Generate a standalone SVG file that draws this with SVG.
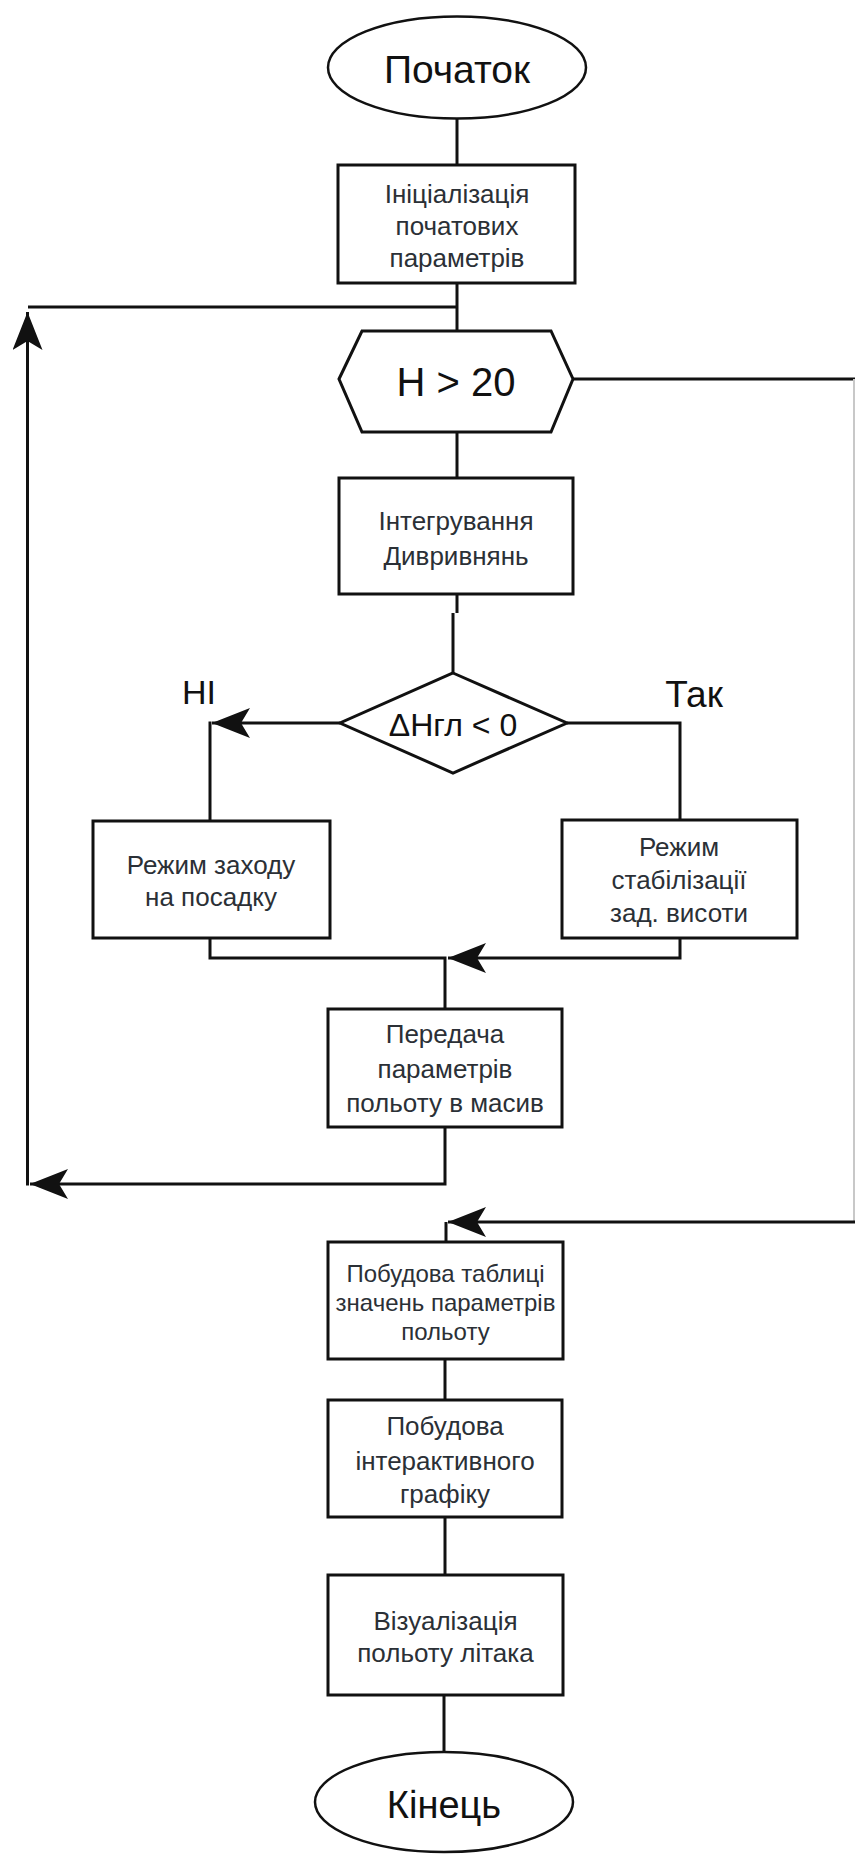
<svg xmlns="http://www.w3.org/2000/svg" width="855" height="1854" viewBox="0 0 855 1854">
<style>
.shape{fill:#fff;stroke:#111;stroke-width:3}
.term{fill:#fff;stroke:#111;stroke-width:2.5}
.con{fill:none;stroke:#111;stroke-width:3}
.faint{fill:none;stroke:#c8c8c8;stroke-width:2}
.big{font-family:"Liberation Sans",Arial,sans-serif;fill:#111;text-anchor:middle}
.lbl{font-family:"Liberation Sans",Arial,sans-serif;fill:#2b3036;text-anchor:middle;font-size:26px}
.lbl.sm{font-size:24px}
</style>
<defs>
<marker id="arr" viewBox="0 0 38 30" refX="38" refY="15" markerWidth="38" markerHeight="30" markerUnits="userSpaceOnUse" orient="auto">
<path d="M0,0 L38,15 L0,30 L9,15 Z" fill="#111"/>
</marker>
</defs>
<rect width="855" height="1854" fill="#fff"/>
<g id="connectors">
<line class="con" x1="457" y1="118" x2="457" y2="165"/>
<line class="con" x1="457" y1="283" x2="457" y2="331"/>
<line class="con" x1="28" y1="307" x2="457" y2="307"/>
<line class="con" x1="457" y1="432" x2="457" y2="478"/>
<path class="con" d="M457,594 V613"/>
<path class="con" d="M453,613 V673"/>
<path class="con" d="M340,723 H212" marker-end="url(#arr)"/>
<path class="con" d="M210,721.5 V821"/>
<path class="con" d="M567,723 H680 V820"/>
<path class="con" d="M210,938 V958 H445 V1009"/>
<path class="con" d="M680,938 V958 H448" marker-end="url(#arr)"/>
<path class="con" d="M445,1127 V1184 H30" marker-end="url(#arr)"/>
<path class="con" d="M27.5,1185.5 V312" marker-end="url(#arr)"/>
<path class="con" d="M573,379 H855"/>
<path class="faint" d="M854,379 V1222"/>
<path class="con" d="M855,1222 H448" marker-end="url(#arr)"/>
<path class="con" d="M446,1222 V1242"/>
<line class="con" x1="445" y1="1359" x2="445" y2="1400"/>
<line class="con" x1="445" y1="1517" x2="445" y2="1575"/>
<line class="con" x1="444" y1="1695" x2="444" y2="1752"/>
</g>
<g id="start">
<ellipse class="term" cx="457" cy="67.5" rx="129" ry="51"/>
<text class="big" x="457" y="83" font-size="39">Початок</text>
</g>
<g id="init">
<rect class="shape" x="338" y="165" width="237" height="118"/>
<text class="lbl" x="457" y="203">Ініціалізація</text>
<text class="lbl" x="457" y="235">початових</text>
<text class="lbl" x="457" y="267">параметрів</text>
</g>
<g id="cond-h">
<polygon class="shape" points="339,379 362,331 551,331 573,379 551,432 362,432"/>
<text class="big" x="456" y="396" font-size="40">H &gt; 20</text>
</g>
<g id="integrate">
<rect class="shape" x="339" y="478" width="234" height="116"/>
<text class="lbl" x="456" y="530">Інтегрування</text>
<text class="lbl" x="456" y="565">Дивривнянь</text>
</g>
<g id="cond-dh">
<polygon class="shape" points="453,673 567,723 453,773 340,723"/>
<text class="big" x="453" y="736" font-size="32">ΔНгл &lt; 0</text>
</g>
<g id="label-no">
<text class="big" x="199" y="704" font-size="34">НІ</text>
</g>
<g id="label-yes">
<text class="big" x="694" y="707" font-size="37">Так</text>
</g>
<g id="landing">
<rect class="shape" x="93" y="821" width="237" height="117"/>
<text class="lbl" x="211" y="874">Режим заходу</text>
<text class="lbl" x="211" y="906">на посадку</text>
</g>
<g id="stabilize">
<rect class="shape" x="562" y="820" width="235" height="118"/>
<text class="lbl" x="679" y="856">Режим</text>
<text class="lbl" x="679" y="889">стабілізації</text>
<text class="lbl" x="679" y="922">зад. висоти</text>
</g>
<g id="transfer">
<rect class="shape" x="328" y="1009" width="234" height="118"/>
<text class="lbl" x="445" y="1043">Передача</text>
<text class="lbl" x="445" y="1078">параметрів</text>
<text class="lbl" x="445" y="1112">польоту в масив</text>
</g>
<g id="table">
<rect class="shape" x="328" y="1242" width="235" height="117"/>
<text class="lbl sm" x="445.5" y="1282">Побудова таблиці</text>
<text class="lbl sm" x="445.5" y="1311">значень параметрів</text>
<text class="lbl sm" x="445.5" y="1340">польоту</text>
</g>
<g id="chart">
<rect class="shape" x="328" y="1400" width="234" height="117"/>
<text class="lbl" x="445" y="1435">Побудова</text>
<text class="lbl" x="445" y="1470">інтерактивного</text>
<text class="lbl" x="445" y="1503">графіку</text>
</g>
<g id="visual">
<rect class="shape" x="328" y="1575" width="235" height="120"/>
<text class="lbl" x="445.5" y="1630">Візуалізація</text>
<text class="lbl" x="445.5" y="1662">польоту літака</text>
</g>
<g id="end">
<ellipse class="term" cx="444" cy="1802" rx="129" ry="50"/>
<text class="big" x="444" y="1818" font-size="38">Кінець</text>
</g>
</svg>
